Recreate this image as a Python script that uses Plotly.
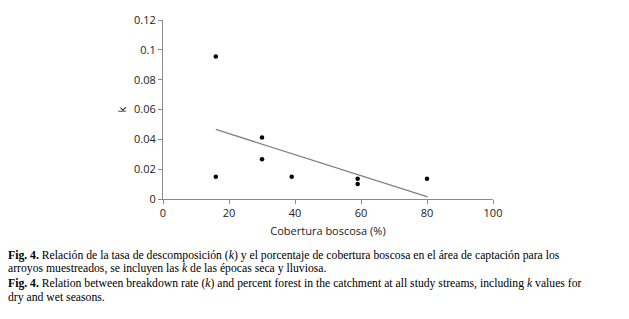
import plotly.graph_objects as go

cobertura = [16, 16, 30, 30, 39, 59, 59, 80]
k_values = [0.0956, 0.015, 0.0413, 0.0266, 0.015, 0.0136, 0.0101, 0.0136]
trend_x = [16, 80.2]
trend_y = [0.0466, 0.0015]
x_ticks = [0, 20, 40, 60, 80, 100]
y_ticks = [0, 0.02, 0.04, 0.06, 0.08, 0.1, 0.12]
y_tick_labels = ["0", "0.02", "0.04", "0.06", "0.08", "0.1", "0.12"]

caption_lines = [
    "<b>Fig. 4.</b> Relación de la tasa de descomposición (<i>k</i>) y el porcentaje de cobertura boscosa en el área de captación para los",
    "arroyos muestreados, se incluyen las <i>k</i> de las épocas seca y lluviosa.",
    "<b>Fig. 4.</b> Relation between breakdown rate (<i>k</i>) and percent forest in the catchment at all study streams, including <i>k</i> values for",
    "dry and wet seasons.",
]

W, H = 629, 319
L, R, T, B = 163, 136, 17, 120

fig = go.Figure()
fig.add_trace(go.Scatter(x=trend_x, y=trend_y, mode="lines",
                         line=dict(color="#808080", width=1.3), showlegend=False))
fig.add_trace(go.Scatter(x=cobertura, y=k_values, mode="markers",
                         marker=dict(color="black", size=4.5), showlegend=False))

axis_font = dict(family="Open Sans, DejaVu Sans, sans-serif", size=11, color="#222")
fig.update_layout(
    width=W, height=H,
    margin=dict(l=L, r=R, t=T, b=B),
    paper_bgcolor="white", plot_bgcolor="white",
    xaxis=dict(range=[0, 100], tickvals=x_ticks, showgrid=False, zeroline=False,
               showline=True, linecolor="#8a8a8a", linewidth=1,
               ticks="outside", ticklen=4, tickcolor="#8a8a8a",
               tickfont=axis_font,
               title=dict(text="Cobertura boscosa (%)", font=axis_font, standoff=8)),
    yaxis=dict(range=[0, 0.12], tickvals=y_ticks, ticktext=y_tick_labels,
               showgrid=False, zeroline=False,
               showline=True, linecolor="#8a8a8a", linewidth=1,
               ticks="outside", ticklen=4, tickcolor="#8a8a8a",
               tickfont=axis_font,
               title=dict(text="k", font=axis_font, standoff=5)),
)

plot_w = W - L - R
plot_h = H - T - B
caption_y_px = [256, 270, 285, 299]
for text, ypx in zip(caption_lines, caption_y_px):
    fig.add_annotation(
        text=text, xref="paper", yref="paper",
        x=(6 - L) / plot_w, y=(H - B - ypx) / plot_h,
        xanchor="left", yanchor="middle", showarrow=False, align="left",
        font=dict(family="Liberation Serif, Times New Roman, serif", size=11.7, color="black"),
    )

fig.write_html("out.html", config={"displayModeBar": False},
               post_script="document.body.style.margin='0';")
